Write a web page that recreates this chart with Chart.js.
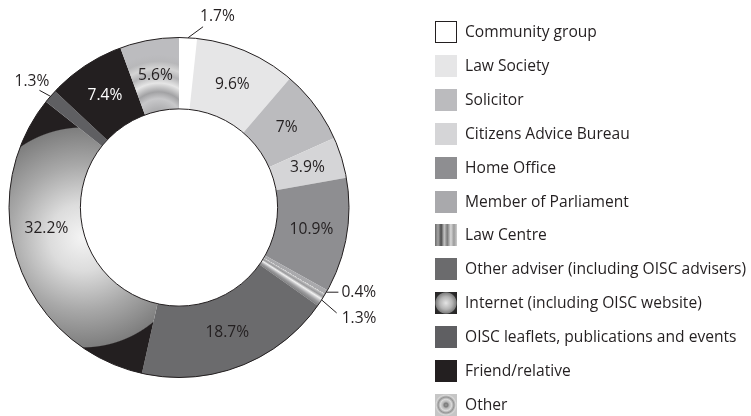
<!DOCTYPE html>
<html>
<head>
<meta charset="utf-8">
<script src="https://cdn.jsdelivr.net/npm/chart.js@4.4.1/dist/chart.umd.min.js"></script>
<style>
  html, body { margin: 0; padding: 0; background: #fff; }
  canvas { display: block; }
</style>
</head>
<body>
<canvas id="sourcesChart" width="751" height="416"></canvas>
<script>
const categories = [
    'Community group',
    'Law Society',
    'Solicitor',
    'Citizens Advice Bureau',
    'Home Office',
    'Member of Parliament',
    'Law Centre',
    'Other adviser (including OISC advisers)',
    'Internet (including OISC website)',
    'OISC leaflets, publications and events',
    'Friend/relative',
    'Other'
];
const shares = [1.7, 9.6, 7, 3.9, 10.9, 0.4, 1.3, 18.7, 32.2, 1.3, 7.4, 5.6];
const shareLabels = ['1.7%', '9.6%', '7%', '3.9%', '10.9%', '0.4%', '1.3%', '18.7%', '32.2%', '1.3%', '7.4%', '5.6%'];

const flatColors = ['#ffffff', '#e6e6e7', '#bbbbbe', '#d5d5d7', '#8e8e91', '#a9a9ac',
    '#a0a0a2', '#6b6b6d', '#c0c0c0', '#5f5f62', '#231f20', '#bcbcbf'];
const ink = '#231f20';
const font = '15.6px "Open Sans", "DejaVu Sans", sans-serif';

// small slices get their label outside with a short leader line
const callouts = {
    0: { end: [15, -11], text: [-3, -10], align: 'left' },
    5: { end: [12, 0], text: [3, 0], align: 'left' },
    6: { end: [15, 13], text: [5, 6], align: 'left' },
    9: { end: [-11, -6], text: [10, -9], align: 'right' }
};
const labelTurn = { 8: 0.18 };

function ringGeometry(chart) {
    const a = chart.chartArea;
    return {
        cx: (a.left + a.right) / 2,
        cy: (a.top + a.bottom) / 2,
        r: Math.min(a.right - a.left, a.bottom - a.top) / 2
    };
}

function sliceStart(i) {
    let total = 0, before = 0;
    for (let k = 0; k < shares.length; k++) {
        total += shares[k];
        if (k < i) before += shares[k];
    }
    return { from: before / total, width: shares[i] / total };
}

function sliceFill(context) {
    const i = context.dataIndex;
    const chart = context.chart;
    if (!chart.chartArea || (i != 6 && i != 8 && i != 11)) return flatColors[i];
    const ctx = chart.ctx;
    const g = ringGeometry(chart);
    if (i == 6) {
        // striped law centre slice, stripes running along the radius
        const s = sliceStart(i);
        const grad = ctx.createConicGradient(-Math.PI / 2 + 2 * Math.PI * s.from, g.cx, g.cy);
        const stops = [[0, '#d8d8d8'], [0.12, '#b0b0b2'], [0.25, '#9a9a9c'], [0.45, '#f2f2f2'],
            [0.6, '#c4c4c6'], [0.75, '#9c9c9e'], [0.9, '#8a8a8c'], [1, '#7a7a7c']];
        stops.forEach(function (p) { grad.addColorStop(p[0] * s.width, p[1]); });
        grad.addColorStop(Math.min(1, s.width + 0.001), '#7a7a7c');
        return grad;
    }
    if (i == 8) {
        const grad = ctx.createRadialGradient(g.cx - 0.565 * g.r, g.cy + 0.176 * g.r, 0,
            g.cx - 0.565 * g.r, g.cy + 0.176 * g.r, 0.66 * g.r);
        grad.addColorStop(0, '#f4f4f4');
        grad.addColorStop(0.3, '#dcdcdc');
        grad.addColorStop(0.65, '#a8a8a8');
        grad.addColorStop(0.975, '#7e7e7e');
        grad.addColorStop(0.985, ink);
        grad.addColorStop(1, ink);
        return grad;
    }
    const grad = ctx.createRadialGradient(g.cx - 0.12 * g.r, g.cy - 0.5 * g.r, 0,
        g.cx - 0.12 * g.r, g.cy - 0.5 * g.r, 0.4 * g.r);
    const rings = [[0, '#a4a4a6'], [0.2, '#b0b0b2'], [0.35, '#c8c8ca'], [0.45, '#a2a2a4'],
        [0.58, '#e6e6e6'], [0.7, '#b4b4b6'], [0.8, '#d4d4d4'], [0.9, '#b8b8ba'], [1, '#bcbcbf']];
    rings.forEach(function (p) { grad.addColorStop(p[0], p[1]); });
    return grad;
}

function legendFill(ctx, i, x, y, s) {
    if (i == 6) {
        const grad = ctx.createLinearGradient(x, 0, x + s, 0);
        const stops = [[0, '#6a6a6a'], [0.14, '#a4a4a4'], [0.28, '#4c4c4c'], [0.42, '#c4c4c4'],
            [0.56, '#7a7a7a'], [0.72, '#d8d8d8'], [0.86, '#9a9a9a'], [1, '#cccccc']];
        stops.forEach(function (p) { grad.addColorStop(p[0], p[1]); });
        return grad;
    }
    if (i == 8) {
        const grad = ctx.createRadialGradient(x + s / 2, y + s / 2, 0, x + s / 2, y + s / 2, s * 0.72);
        grad.addColorStop(0, '#e4e4e4');
        grad.addColorStop(0.4, '#b4b4b4');
        grad.addColorStop(0.64, '#808080');
        grad.addColorStop(0.7, '#2c2c2c');
        grad.addColorStop(1, ink);
        return grad;
    }
    if (i == 11) {
        const grad = ctx.createRadialGradient(x + s / 2, y + s / 2, 0, x + s / 2, y + s / 2, s * 0.72);
        const rings = [[0, '#9a9a9a'], [0.12, '#7a7a7a'], [0.2, '#b4b4b4'], [0.36, '#dadada'],
            [0.5, '#969696'], [0.62, '#d8d8d8'], [0.7, '#c6c6c6'], [1, '#c6c6c6']];
        rings.forEach(function (p) { grad.addColorStop(p[0], p[1]); });
        return grad;
    }
    return flatColors[i];
}

const ringOutline = {
    id: 'ringOutline',
    afterDatasetsDraw(chart) {
        const arc = chart.getDatasetMeta(0).data[0];
        const ctx = chart.ctx;
        ctx.save();
        ctx.strokeStyle = ink;
        ctx.lineWidth = 1;
        ctx.beginPath();
        ctx.arc(arc.x, arc.y, arc.outerRadius, 0, 2 * Math.PI);
        ctx.stroke();
        ctx.beginPath();
        ctx.arc(arc.x, arc.y, arc.innerRadius, 0, 2 * Math.PI);
        ctx.stroke();
        ctx.restore();
    }
};

const sliceLabels = {
    id: 'sliceLabels',
    afterDatasetsDraw(chart) {
        const ctx = chart.ctx;
        ctx.save();
        ctx.font = font;
        ctx.textBaseline = 'middle';
        chart.getDatasetMeta(0).data.forEach(function (arc, i) {
            const mid = (arc.startAngle + arc.endAngle) / 2;
            const c = callouts[i];
            if (c) {
                const px = arc.x + Math.cos(mid) * arc.outerRadius;
                const py = arc.y + Math.sin(mid) * arc.outerRadius;
                const ex = px + c.end[0], ey = py + c.end[1];
                ctx.strokeStyle = ink;
                ctx.lineWidth = 1;
                ctx.beginPath();
                ctx.moveTo(px, py);
                ctx.lineTo(ex, ey);
                ctx.stroke();
                ctx.fillStyle = ink;
                ctx.textAlign = c.align;
                ctx.fillText(shareLabels[i], ex + c.text[0], ey + c.text[1]);
                return;
            }
            const a = mid + (labelTurn[i] || 0);
            const r = (arc.innerRadius + arc.outerRadius) / 2;
            ctx.fillStyle = i == 10 ? '#ffffff' : ink;
            ctx.textAlign = 'center';
            ctx.fillText(shareLabels[i], arc.x + Math.cos(a) * r, arc.y + Math.sin(a) * r);
        });
        ctx.restore();
    }
};

const sideLegend = {
    id: 'sideLegend',
    afterDraw(chart) {
        const ctx = chart.ctx;
        const x = 435, top = 21, step = 33.9, box = 22;
        ctx.save();
        ctx.font = font;
        ctx.textBaseline = 'middle';
        ctx.textAlign = 'left';
        categories.forEach(function (name, i) {
            const y = Math.round(top + i * step);
            ctx.fillStyle = legendFill(ctx, i, x, y, box);
            ctx.fillRect(x, y, box, box);
            if (i == 0) {
                ctx.strokeStyle = ink;
                ctx.lineWidth = 1;
                ctx.strokeRect(x + 0.5, y + 0.5, box - 1, box - 1);
            }
            ctx.fillStyle = ink;
            ctx.fillText(name, x + 30, y + box / 2 + 1);
        });
        ctx.restore();
    }
};

new Chart(document.getElementById('sourcesChart').getContext('2d'), {
    type: 'doughnut',
    data: {
        labels: categories,
        datasets: [{
            data: shares,
            backgroundColor: sliceFill,
            borderWidth: 0,
            hoverOffset: 0
        }]
    },
    options: {
        responsive: false,
        animation: false,
        cutout: '58%',
        rotation: 0,
        layout: { padding: { left: 9, top: 37, right: 402, bottom: 38 } },
        plugins: {
            legend: { display: false },
            tooltip: { enabled: false }
        }
    },
    plugins: [ringOutline, sliceLabels, sideLegend]
});
</script>
</body>
</html>
